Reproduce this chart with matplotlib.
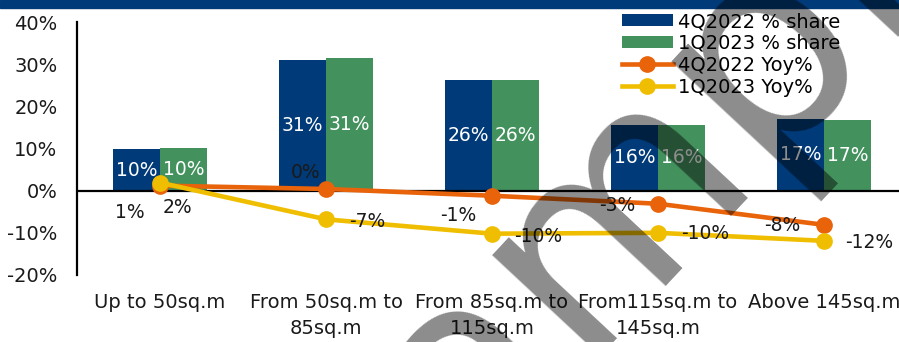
import matplotlib
matplotlib.use("Agg")
import matplotlib.pyplot as plt
import numpy as np

plt.rcParams['font.family'] = ['DejaVu Sans']

categories = ["Up to 50sq.m", "From 50sq.m to\n85sq.m", "From 85sq.m to\n115sq.m",
              "From115sq.m to\n145sq.m", "Above 145sq.m"]
share_4q22 = [9.8, 31.0, 26.2, 15.6, 17.1]
share_1q23 = [10.1, 31.4, 26.3, 15.6, 16.8]
yoy_4q22 = [1.2, 0.4, -1.2, -3.1, -8.1]
yoy_1q23 = [1.9, -6.8, -10.2, -10.0, -11.9]
yticks = [-20, -10, 0, 10, 20, 30, 40]

# label offsets (pixels) for the yoy series
off_4q22 = [(-30, -27), (-20, 16), (-34, -20), (-41, -2), (-42, -1)]
off_1q23 = [(17, -25), (41, -2), (46, -3), (47, -1), (45, -2)]

BLUE = '#003a78'
GREEN = '#43925e'
ORANGE = '#e8630a'
YELLOW = '#f0be00'

fig = plt.figure(figsize=(8.99, 3.42), dpi=100)
ax = fig.add_axes([77/899, 1-275/342, 830/899, 253/342])

x = np.arange(len(categories))
w = 0.283
b1 = ax.bar(x - w/2, share_4q22, w, color=BLUE, label='4Q2022 % share', zorder=2)
b2 = ax.bar(x + w/2, share_1q23, w, color=GREEN, label='1Q2023 % share', zorder=2)
for bars, vals in ((b1, share_4q22), (b2, share_1q23)):
    for r, v in zip(bars, vals):
        ax.text(r.get_x() + r.get_width()/2, v/2, f"{v:.0f}%", color='white',
                ha='center', va='center', fontsize=13.5, zorder=5)

ax.axhline(0, color='black', lw=1.6, zorder=3)

l1, = ax.plot(x, yoy_4q22, color=ORANGE, lw=3.3, marker='o', ms=11, label='4Q2022 Yoy%', zorder=4)
l2, = ax.plot(x, yoy_1q23, color=YELLOW, lw=3.3, marker='o', ms=11, label='1Q2023 Yoy%', zorder=4)
for vals, offs in ((yoy_4q22, off_4q22), (yoy_1q23, off_1q23)):
    for xi, v, (dx, dy) in zip(x, vals, offs):
        ax.annotate(f"{v:.0f}%", (xi, v), xytext=(dx, dy), textcoords='offset pixels',
                    ha='center', va='center', fontsize=13.5, color='#1a1a1a', zorder=5)

ax.set_xlim(-0.5, 4.5)
ax.set_ylim(-20, 40)
ax.set_yticks(yticks)
ax.set_yticklabels([f"{t}%" for t in yticks])
ax.set_xticks(x)
ax.set_xticklabels(categories, linespacing=1.45)
ax.tick_params(axis='both', length=0, labelsize=14, colors='#1a1a1a')
ax.tick_params(axis='y', pad=14)
ax.tick_params(axis='x', pad=13)
for s in ('top', 'right', 'bottom'):
    ax.spines[s].set_visible(False)
ax.spines['left'].set_linewidth(1.6)

fig.legend([b1, b2, l1, l2], [h.get_label() for h in (b1, b2, l1, l2)],
           loc='upper left', bbox_to_anchor=(622/899, 1-12/342), frameon=False,
           fontsize=14, handlelength=2.6, handleheight=0.55, handletextpad=0.3,
           labelspacing=0.15, borderpad=0, borderaxespad=0)

# header band
fig.patches.append(plt.Rectangle((0, 1-8/342), 1, 8/342, transform=fig.transFigure,
                                 color=BLUE, zorder=0))

# watermark
fig.text(640/899, 1-185/342, "Sample", rotation=47, ha='center', va='center',
         rotation_mode='anchor', fontsize=195, color='black', alpha=0.45, zorder=10)

fig.savefig("out.png", dpi=100)
